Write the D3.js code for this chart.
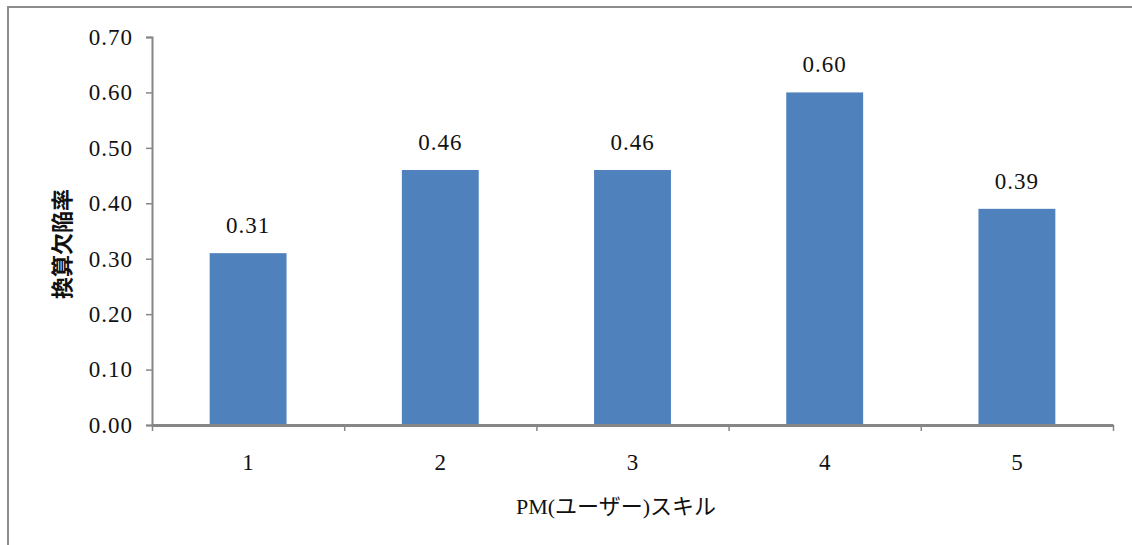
<!DOCTYPE html>
<html><head><meta charset="utf-8">
<script src="https://cdn.jsdelivr.net/npm/d3@7"></script>
<style>body{margin:0;background:#fff}svg{display:block}</style>
</head><body>
<svg id="c" width="1132" height="545"></svg>
<script>
const categories = ["1","2","3","4","5"];
const values = [0.31, 0.46, 0.46, 0.60, 0.39];
const valueLabels = ["0.31","0.46","0.46","0.60","0.39"];
const yTicks = [0,0.1,0.2,0.3,0.4,0.5,0.6,0.7];
const yTitle = "換算欠陥率";
const xTitle = "PM(ユーザー)スキル";

const svg = d3.select("#c");
const serif = "'Liberation Serif','Noto Sans CJK JP',serif";
const fs = "23px";
svg.append("rect").attr("x",8).attr("y",7).attr("width",1140).attr("height",560)
  .attr("fill","#fff").attr("stroke","#8c8c8c").attr("stroke-width",2);

const L=152,R=1113,T=37,B=425;
const x=d3.scaleBand().domain(categories).range([L,R]).paddingInner(0.6).paddingOuter(0.3);
const y=d3.scaleLinear().domain([0,0.7]).range([B,T]);

svg.selectAll("rect.bar").data(values).join("rect").attr("class","bar")
  .attr("x",(d,i)=>x(categories[i])).attr("width",x.bandwidth())
  .attr("y",d=>y(d)).attr("height",d=>B-y(d)).attr("fill","#4F81BD");

svg.selectAll("text.vl").data(values).join("text").attr("class","vl")
  .attr("x",(d,i)=>x(categories[i])+x.bandwidth()/2).attr("y",d=>y(d)-20)
  .attr("text-anchor","middle").style("font-family",serif).style("font-size",fs).style("letter-spacing","1px").attr("fill","#111")
  .text((d,i)=>valueLabels[i]);

const ya=svg.append("g").attr("transform",`translate(${L},0)`)
  .call(d3.axisLeft(y).tickValues(yTicks).tickFormat(d3.format(".2f")).tickSize(6).tickPadding(13));
ya.select(".domain").attr("stroke","#868686").attr("stroke-width",2);
ya.selectAll(".tick line").attr("stroke","#868686").attr("stroke-width",1.5);
ya.selectAll("text").style("font-family",serif).style("font-size",fs).style("letter-spacing","1px").attr("fill","#111");

const xo=d3.scaleLinear().domain([0,5]).range([L,R]);
const xa=svg.append("g").attr("transform",`translate(0,${B})`)
  .call(d3.axisBottom(xo).tickValues([0,1,2,3,4,5]).tickFormat("").tickSize(6).tickSizeOuter(0));
xa.select(".domain").attr("stroke","#868686").attr("stroke-width",3);
xa.selectAll(".tick line").attr("stroke","#868686").attr("stroke-width",1.5);

svg.selectAll("text.xl").data(categories).join("text").attr("class","xl")
  .attr("x",d=>x(d)+x.bandwidth()/2).attr("y",470)
  .attr("text-anchor","middle").style("font-family",serif).style("font-size",fs).attr("fill","#111").text(d=>d);

svg.append("text").attr("x",616).attr("y",514).attr("text-anchor","middle")
  .style("font-family",serif).style("font-size","22px").attr("fill","#111").text(xTitle);

svg.append("text").attr("transform","translate(70,244) rotate(-90)").attr("text-anchor","middle")
  .style("font-family","'Noto Sans CJK JP',sans-serif").style("font-weight","bold").style("font-size","22px").attr("fill","#111").text(yTitle);
</script>
</body></html>
